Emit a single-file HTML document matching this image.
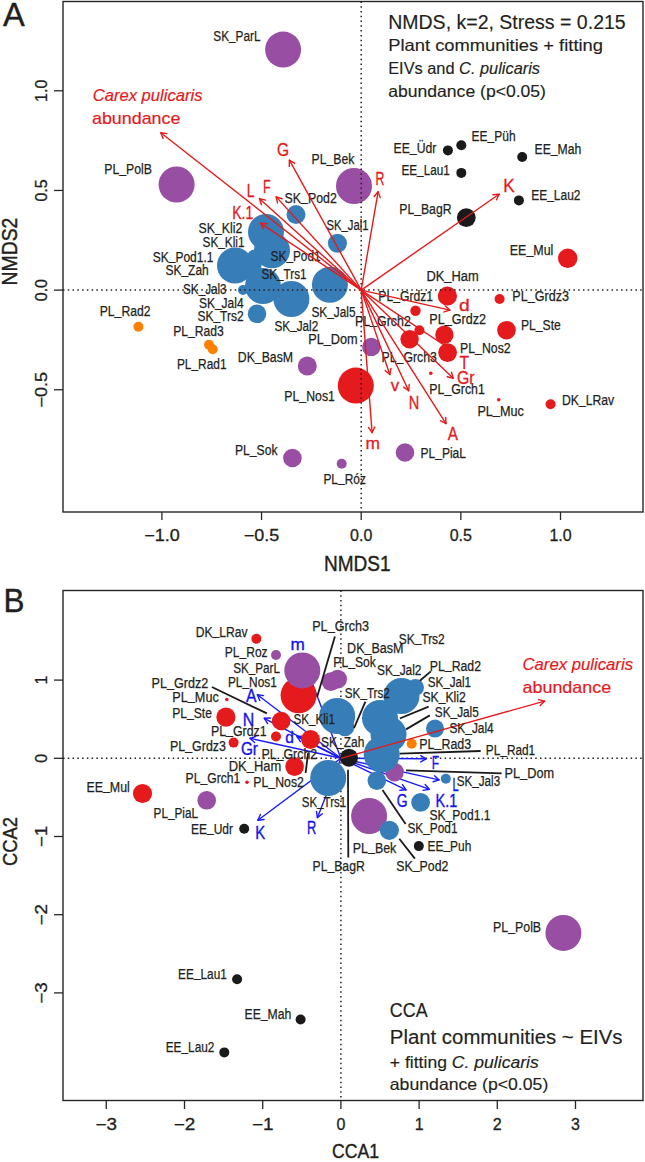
<!DOCTYPE html>
<html><head><meta charset="utf-8"><style>
html,body{margin:0;padding:0;background:#fff;overflow:hidden;width:645px;height:1162px;}
svg{display:block;font-family:"Liberation Sans",sans-serif;}
</style></head><body>
<svg width="645" height="1162" viewBox="0 0 645 1162">
<rect width="645" height="1162" fill="#fff"/>
<rect x="63" y="1.5" width="580" height="510.5" fill="none" stroke="#262626" stroke-width="1.4"/>
<circle cx="283.1" cy="49.6" r="18" fill="#984EA3"/>
<circle cx="176.6" cy="184.5" r="18" fill="#984EA3"/>
<circle cx="354" cy="186" r="18" fill="#984EA3"/>
<circle cx="371.3" cy="346.9" r="9.2" fill="#984EA3"/>
<circle cx="307.3" cy="366" r="9.5" fill="#984EA3"/>
<circle cx="292.4" cy="458" r="9.3" fill="#984EA3"/>
<circle cx="341.7" cy="463.8" r="5" fill="#984EA3"/>
<circle cx="405" cy="452.5" r="9.3" fill="#984EA3"/>
<circle cx="447.9" cy="150.4" r="5" fill="#1a1a1a"/>
<circle cx="461.3" cy="145.3" r="5" fill="#1a1a1a"/>
<circle cx="522.2" cy="157" r="5" fill="#1a1a1a"/>
<circle cx="461.3" cy="172.9" r="5" fill="#1a1a1a"/>
<circle cx="518.9" cy="200.4" r="5" fill="#1a1a1a"/>
<circle cx="466.3" cy="217.6" r="9.4" fill="#1a1a1a"/>
<circle cx="567.7" cy="258.3" r="9.7" fill="#E41A1C"/>
<circle cx="447.4" cy="296" r="9.6" fill="#E41A1C"/>
<circle cx="499.6" cy="299" r="5" fill="#E41A1C"/>
<circle cx="415.5" cy="310.7" r="5.2" fill="#E41A1C"/>
<circle cx="419.4" cy="330.3" r="5" fill="#E41A1C"/>
<circle cx="409.6" cy="339.2" r="9.2" fill="#E41A1C"/>
<circle cx="444.4" cy="334.8" r="9.2" fill="#E41A1C"/>
<circle cx="447.6" cy="352.6" r="9.4" fill="#E41A1C"/>
<circle cx="506.5" cy="330.2" r="9.3" fill="#E41A1C"/>
<circle cx="430.8" cy="373.2" r="1.8" fill="#E41A1C"/>
<circle cx="498.7" cy="399.8" r="1.8" fill="#E41A1C"/>
<circle cx="550.6" cy="404.2" r="5" fill="#E41A1C"/>
<circle cx="355.8" cy="385.6" r="18" fill="#E41A1C"/>
<circle cx="138.4" cy="326.7" r="5" fill="#FF7F00"/>
<circle cx="209" cy="344.8" r="5" fill="#FF7F00"/>
<circle cx="212.7" cy="349.3" r="5" fill="#FF7F00"/>
<circle cx="266" cy="232" r="18" fill="#377EB8"/>
<circle cx="272" cy="250.3" r="18" fill="#377EB8"/>
<circle cx="235" cy="265.5" r="18" fill="#377EB8"/>
<circle cx="263" cy="286" r="18" fill="#377EB8"/>
<circle cx="243" cy="290" r="5" fill="#377EB8"/>
<circle cx="255" cy="258" r="8.5" fill="#377EB8"/>
<circle cx="252.3" cy="265.5" r="9.3" fill="#377EB8"/>
<circle cx="291.4" cy="299" r="18" fill="#377EB8"/>
<circle cx="257" cy="313.8" r="9.3" fill="#377EB8"/>
<circle cx="296" cy="214.6" r="9.5" fill="#377EB8"/>
<circle cx="337.4" cy="243.3" r="9.5" fill="#377EB8"/>
<circle cx="329.9" cy="284.8" r="18" fill="#377EB8"/>
<line x1="63" y1="290.1" x2="643" y2="290.1" stroke="#231F20" stroke-width="1.5" stroke-dasharray="1.5 3.27"/>
<line x1="361.2" y1="1.5" x2="361.2" y2="512" stroke="#231F20" stroke-width="1.5" stroke-dasharray="1.5 3.27"/>
<text x="213.3" y="41.2" font-size="14" fill="#231F20" stroke="#231F20" stroke-width="0.25" textLength="47.2" lengthAdjust="spacingAndGlyphs">SK<tspan dy="-1.2">_</tspan><tspan dy="1.2">ParL</tspan></text>
<text x="104.3" y="174.3" font-size="14" fill="#231F20" stroke="#231F20" stroke-width="0.25" textLength="47.7" lengthAdjust="spacingAndGlyphs">PL<tspan dy="-1.2">_</tspan><tspan dy="1.2">PolB</tspan></text>
<text x="311.6" y="164.3" font-size="14" fill="#231F20" stroke="#231F20" stroke-width="0.25" textLength="42.8" lengthAdjust="spacingAndGlyphs">PL<tspan dy="-1.2">_</tspan><tspan dy="1.2">Bek</tspan></text>
<text x="393.6" y="153.1" font-size="14" fill="#231F20" stroke="#231F20" stroke-width="0.25" textLength="42.7" lengthAdjust="spacingAndGlyphs">EE<tspan dy="-1.2">_</tspan><tspan dy="1.2">Üdr</tspan></text>
<text x="471.6" y="141.2" font-size="14" fill="#231F20" stroke="#231F20" stroke-width="0.25" textLength="44.0" lengthAdjust="spacingAndGlyphs">EE<tspan dy="-1.2">_</tspan><tspan dy="1.2">Püh</tspan></text>
<text x="534.5" y="154" font-size="14" fill="#231F20" stroke="#231F20" stroke-width="0.25" textLength="46.8" lengthAdjust="spacingAndGlyphs">EE<tspan dy="-1.2">_</tspan><tspan dy="1.2">Mah</tspan></text>
<text x="401.4" y="175.4" font-size="14" fill="#231F20" stroke="#231F20" stroke-width="0.25" textLength="48.4" lengthAdjust="spacingAndGlyphs">EE<tspan dy="-1.2">_</tspan><tspan dy="1.2">Lau1</tspan></text>
<text x="531.2" y="200.4" font-size="14" fill="#231F20" stroke="#231F20" stroke-width="0.25" textLength="49.3" lengthAdjust="spacingAndGlyphs">EE<tspan dy="-1.2">_</tspan><tspan dy="1.2">Lau2</tspan></text>
<text x="399.3" y="214.4" font-size="14" fill="#231F20" stroke="#231F20" stroke-width="0.25" textLength="52.2" lengthAdjust="spacingAndGlyphs">PL<tspan dy="-1.2">_</tspan><tspan dy="1.2">BagR</tspan></text>
<text x="509.8" y="255.4" font-size="14" fill="#231F20" stroke="#231F20" stroke-width="0.25" textLength="43.6" lengthAdjust="spacingAndGlyphs">EE<tspan dy="-1.2">_</tspan><tspan dy="1.2">Mul</tspan></text>
<text x="426.4" y="281" font-size="14" fill="#231F20" stroke="#231F20" stroke-width="0.25" textLength="52.2" lengthAdjust="spacingAndGlyphs">DK<tspan dy="-1.2">_</tspan><tspan dy="1.2">Ham</tspan></text>
<text x="512.3" y="301" font-size="14" fill="#231F20" stroke="#231F20" stroke-width="0.25" textLength="56.7" lengthAdjust="spacingAndGlyphs">PL<tspan dy="-1.2">_</tspan><tspan dy="1.2">Grdz3</tspan></text>
<text x="378.3" y="301.4" font-size="14" fill="#231F20" stroke="#231F20" stroke-width="0.25" textLength="54.8" lengthAdjust="spacingAndGlyphs">PL<tspan dy="-1.2">_</tspan><tspan dy="1.2">Grdz1</tspan></text>
<text x="429.3" y="323.7" font-size="14" fill="#231F20" stroke="#231F20" stroke-width="0.25" textLength="56.7" lengthAdjust="spacingAndGlyphs">PL<tspan dy="-1.2">_</tspan><tspan dy="1.2">Grdz2</tspan></text>
<text x="520.9" y="329.8" font-size="14" fill="#231F20" stroke="#231F20" stroke-width="0.25" textLength="39.9" lengthAdjust="spacingAndGlyphs">PL<tspan dy="-1.2">_</tspan><tspan dy="1.2">Ste</tspan></text>
<text x="460.1" y="353" font-size="14" fill="#231F20" stroke="#231F20" stroke-width="0.25" textLength="50.5" lengthAdjust="spacingAndGlyphs">PL<tspan dy="-1.2">_</tspan><tspan dy="1.2">Nos2</tspan></text>
<text x="381.6" y="362" font-size="14" fill="#231F20" stroke="#231F20" stroke-width="0.25" textLength="55.3" lengthAdjust="spacingAndGlyphs">PL<tspan dy="-1.2">_</tspan><tspan dy="1.2">Grch3</tspan></text>
<text x="354.9" y="325.6" font-size="14" fill="#231F20" stroke="#231F20" stroke-width="0.25" textLength="55.9" lengthAdjust="spacingAndGlyphs">PL<tspan dy="-1.2">_</tspan><tspan dy="1.2">Grch2</tspan></text>
<text x="429.3" y="393.7" font-size="14" fill="#231F20" stroke="#231F20" stroke-width="0.25" textLength="55.5" lengthAdjust="spacingAndGlyphs">PL<tspan dy="-1.2">_</tspan><tspan dy="1.2">Grch1</tspan></text>
<text x="477.4" y="415.5" font-size="14" fill="#231F20" stroke="#231F20" stroke-width="0.25" textLength="46.4" lengthAdjust="spacingAndGlyphs">PL<tspan dy="-1.2">_</tspan><tspan dy="1.2">Muc</tspan></text>
<text x="562" y="405.2" font-size="14" fill="#231F20" stroke="#231F20" stroke-width="0.25" textLength="52.2" lengthAdjust="spacingAndGlyphs">DK<tspan dy="-1.2">_</tspan><tspan dy="1.2">LRav</tspan></text>
<text x="420.5" y="458" font-size="14" fill="#231F20" stroke="#231F20" stroke-width="0.25" textLength="45.5" lengthAdjust="spacingAndGlyphs">PL<tspan dy="-1.2">_</tspan><tspan dy="1.2">PiaL</tspan></text>
<text x="323.4" y="483.5" font-size="14" fill="#231F20" stroke="#231F20" stroke-width="0.25" textLength="42.5" lengthAdjust="spacingAndGlyphs">PL<tspan dy="-1.2">_</tspan><tspan dy="1.2">Róz</tspan></text>
<text x="235" y="454.7" font-size="14" fill="#231F20" stroke="#231F20" stroke-width="0.25" textLength="42.5" lengthAdjust="spacingAndGlyphs">PL<tspan dy="-1.2">_</tspan><tspan dy="1.2">Sok</tspan></text>
<text x="284.3" y="401.3" font-size="14" fill="#231F20" stroke="#231F20" stroke-width="0.25" textLength="50.6" lengthAdjust="spacingAndGlyphs">PL<tspan dy="-1.2">_</tspan><tspan dy="1.2">Nos1</tspan></text>
<text x="237.8" y="362" font-size="14" fill="#231F20" stroke="#231F20" stroke-width="0.25" textLength="55.2" lengthAdjust="spacingAndGlyphs">DK<tspan dy="-1.2">_</tspan><tspan dy="1.2">BasM</tspan></text>
<text x="308.2" y="343.8" font-size="14" fill="#231F20" stroke="#231F20" stroke-width="0.25" textLength="49.5" lengthAdjust="spacingAndGlyphs">PL<tspan dy="-1.2">_</tspan><tspan dy="1.2">Dom</tspan></text>
<text x="311.4" y="317.1" font-size="14" fill="#231F20" stroke="#231F20" stroke-width="0.25" textLength="44.1" lengthAdjust="spacingAndGlyphs">SK<tspan dy="-1.2">_</tspan><tspan dy="1.2">Jal5</tspan></text>
<text x="274.5" y="330.6" font-size="14" fill="#231F20" stroke="#231F20" stroke-width="0.25" textLength="43.7" lengthAdjust="spacingAndGlyphs">SK<tspan dy="-1.2">_</tspan><tspan dy="1.2">Jal2</tspan></text>
<text x="261.5" y="278.7" font-size="14" fill="#231F20" stroke="#231F20" stroke-width="0.25" textLength="45.0" lengthAdjust="spacingAndGlyphs">SK<tspan dy="-1.2">_</tspan><tspan dy="1.2">Trs1</tspan></text>
<text x="270.6" y="261.2" font-size="14" fill="#231F20" stroke="#231F20" stroke-width="0.25" textLength="50.0" lengthAdjust="spacingAndGlyphs">SK<tspan dy="-1.2">_</tspan><tspan dy="1.2">Pod1</tspan></text>
<text x="284.6" y="202.6" font-size="14" fill="#231F20" stroke="#231F20" stroke-width="0.25" textLength="52.2" lengthAdjust="spacingAndGlyphs">SK<tspan dy="-1.2">_</tspan><tspan dy="1.2">Pod2</tspan></text>
<text x="326.5" y="229.8" font-size="14" fill="#231F20" stroke="#231F20" stroke-width="0.25" textLength="42.0" lengthAdjust="spacingAndGlyphs">SK<tspan dy="-1.2">_</tspan><tspan dy="1.2">Jal1</tspan></text>
<text x="198.6" y="232.7" font-size="14" fill="#231F20" stroke="#231F20" stroke-width="0.25" textLength="43.7" lengthAdjust="spacingAndGlyphs">SK<tspan dy="-1.2">_</tspan><tspan dy="1.2">Kli2</tspan></text>
<text x="202.6" y="246.7" font-size="14" fill="#231F20" stroke="#231F20" stroke-width="0.25" textLength="41.9" lengthAdjust="spacingAndGlyphs">SK<tspan dy="-1.2">_</tspan><tspan dy="1.2">Kli1</tspan></text>
<text x="152.7" y="261.6" font-size="14" fill="#231F20" stroke="#231F20" stroke-width="0.25" textLength="60.8" lengthAdjust="spacingAndGlyphs">SK<tspan dy="-1.2">_</tspan><tspan dy="1.2">Pod1.1</tspan></text>
<text x="165.4" y="275.2" font-size="14" fill="#231F20" stroke="#231F20" stroke-width="0.25" textLength="43.4" lengthAdjust="spacingAndGlyphs">SK<tspan dy="-1.2">_</tspan><tspan dy="1.2">Zah</tspan></text>
<text x="183.1" y="293.8" font-size="14" fill="#231F20" stroke="#231F20" stroke-width="0.25" textLength="43.4" lengthAdjust="spacingAndGlyphs">SK<tspan dy="-1.2">_</tspan><tspan dy="1.2">Jal3</tspan></text>
<text x="198.9" y="307.8" font-size="14" fill="#231F20" stroke="#231F20" stroke-width="0.25" textLength="44.7" lengthAdjust="spacingAndGlyphs">SK<tspan dy="-1.2">_</tspan><tspan dy="1.2">Jal4</tspan></text>
<text x="197.4" y="321.1" font-size="14" fill="#231F20" stroke="#231F20" stroke-width="0.25" textLength="46.2" lengthAdjust="spacingAndGlyphs">SK<tspan dy="-1.2">_</tspan><tspan dy="1.2">Trs2</tspan></text>
<text x="99.7" y="315.8" font-size="14" fill="#231F20" stroke="#231F20" stroke-width="0.25" textLength="50.8" lengthAdjust="spacingAndGlyphs">PL<tspan dy="-1.2">_</tspan><tspan dy="1.2">Rad2</tspan></text>
<text x="173.2" y="336" font-size="14" fill="#231F20" stroke="#231F20" stroke-width="0.25" textLength="50.5" lengthAdjust="spacingAndGlyphs">PL<tspan dy="-1.2">_</tspan><tspan dy="1.2">Rad3</tspan></text>
<text x="176.9" y="369.1" font-size="14" fill="#231F20" stroke="#231F20" stroke-width="0.25" textLength="49.6" lengthAdjust="spacingAndGlyphs">PL<tspan dy="-1.2">_</tspan><tspan dy="1.2">Rad1</tspan></text>
<line x1="361.2" y1="290.1" x2="160.8" y2="132.7" stroke="#E41A1C" stroke-width="1.4" />
<line x1="160.80" y1="132.70" x2="163.11" y2="138.45" stroke="#E41A1C" stroke-width="1.4" stroke-linecap="round"/>
<line x1="160.80" y1="132.70" x2="166.94" y2="133.58" stroke="#E41A1C" stroke-width="1.4" stroke-linecap="round"/>
<line x1="361.2" y1="290.1" x2="289.4" y2="160.2" stroke="#E41A1C" stroke-width="1.4" />
<line x1="289.40" y1="160.20" x2="289.28" y2="166.40" stroke="#E41A1C" stroke-width="1.4" stroke-linecap="round"/>
<line x1="289.40" y1="160.20" x2="294.71" y2="163.40" stroke="#E41A1C" stroke-width="1.4" stroke-linecap="round"/>
<line x1="361.2" y1="290.1" x2="259.5" y2="198.8" stroke="#E41A1C" stroke-width="1.4" />
<line x1="259.50" y1="198.80" x2="261.42" y2="204.69" stroke="#E41A1C" stroke-width="1.4" stroke-linecap="round"/>
<line x1="259.50" y1="198.80" x2="265.57" y2="200.08" stroke="#E41A1C" stroke-width="1.4" stroke-linecap="round"/>
<line x1="361.2" y1="290.1" x2="276.2" y2="196.9" stroke="#E41A1C" stroke-width="1.4" />
<line x1="276.20" y1="196.90" x2="277.53" y2="202.96" stroke="#E41A1C" stroke-width="1.4" stroke-linecap="round"/>
<line x1="276.20" y1="196.90" x2="282.11" y2="198.78" stroke="#E41A1C" stroke-width="1.4" stroke-linecap="round"/>
<line x1="361.2" y1="290.1" x2="260.7" y2="223.3" stroke="#E41A1C" stroke-width="1.4" />
<line x1="260.70" y1="223.30" x2="263.46" y2="228.85" stroke="#E41A1C" stroke-width="1.4" stroke-linecap="round"/>
<line x1="260.70" y1="223.30" x2="266.89" y2="223.69" stroke="#E41A1C" stroke-width="1.4" stroke-linecap="round"/>
<line x1="361.2" y1="290.1" x2="378.1" y2="191.8" stroke="#E41A1C" stroke-width="1.4" />
<line x1="378.10" y1="191.80" x2="374.14" y2="196.57" stroke="#E41A1C" stroke-width="1.4" stroke-linecap="round"/>
<line x1="378.10" y1="191.80" x2="380.25" y2="197.62" stroke="#E41A1C" stroke-width="1.4" stroke-linecap="round"/>
<line x1="361.2" y1="290.1" x2="499.1" y2="194.2" stroke="#E41A1C" stroke-width="1.4" />
<line x1="499.10" y1="194.20" x2="492.92" y2="194.72" stroke="#E41A1C" stroke-width="1.4" stroke-linecap="round"/>
<line x1="499.10" y1="194.20" x2="496.46" y2="199.81" stroke="#E41A1C" stroke-width="1.4" stroke-linecap="round"/>
<line x1="361.2" y1="290.1" x2="449.9" y2="310.1" stroke="#E41A1C" stroke-width="1.4" />
<line x1="449.90" y1="310.10" x2="445.34" y2="305.89" stroke="#E41A1C" stroke-width="1.4" stroke-linecap="round"/>
<line x1="449.90" y1="310.10" x2="443.98" y2="311.94" stroke="#E41A1C" stroke-width="1.4" stroke-linecap="round"/>
<line x1="361.2" y1="290.1" x2="453" y2="351" stroke="#E41A1C" stroke-width="1.4" />
<line x1="453.00" y1="351.00" x2="450.24" y2="345.45" stroke="#E41A1C" stroke-width="1.4" stroke-linecap="round"/>
<line x1="453.00" y1="351.00" x2="446.81" y2="350.61" stroke="#E41A1C" stroke-width="1.4" stroke-linecap="round"/>
<line x1="361.2" y1="290.1" x2="453.2" y2="378.2" stroke="#E41A1C" stroke-width="1.4" />
<line x1="453.20" y1="378.20" x2="451.47" y2="372.25" stroke="#E41A1C" stroke-width="1.4" stroke-linecap="round"/>
<line x1="453.20" y1="378.20" x2="447.18" y2="376.73" stroke="#E41A1C" stroke-width="1.4" stroke-linecap="round"/>
<line x1="361.2" y1="290.1" x2="389.8" y2="374.5" stroke="#E41A1C" stroke-width="1.4" />
<line x1="389.80" y1="374.50" x2="391.01" y2="368.42" stroke="#E41A1C" stroke-width="1.4" stroke-linecap="round"/>
<line x1="389.80" y1="374.50" x2="385.14" y2="370.41" stroke="#E41A1C" stroke-width="1.4" stroke-linecap="round"/>
<line x1="361.2" y1="290.1" x2="408.7" y2="390.7" stroke="#E41A1C" stroke-width="1.4" />
<line x1="408.70" y1="390.70" x2="409.21" y2="384.52" stroke="#E41A1C" stroke-width="1.4" stroke-linecap="round"/>
<line x1="408.70" y1="390.70" x2="403.60" y2="387.17" stroke="#E41A1C" stroke-width="1.4" stroke-linecap="round"/>
<line x1="361.2" y1="290.1" x2="446" y2="423.6" stroke="#E41A1C" stroke-width="1.4" />
<line x1="446.00" y1="423.60" x2="445.74" y2="417.41" stroke="#E41A1C" stroke-width="1.4" stroke-linecap="round"/>
<line x1="446.00" y1="423.60" x2="440.50" y2="420.73" stroke="#E41A1C" stroke-width="1.4" stroke-linecap="round"/>
<line x1="361.2" y1="290.1" x2="372.1" y2="432.6" stroke="#E41A1C" stroke-width="1.4" />
<line x1="372.10" y1="432.60" x2="374.78" y2="427.01" stroke="#E41A1C" stroke-width="1.4" stroke-linecap="round"/>
<line x1="372.10" y1="432.60" x2="368.60" y2="427.48" stroke="#E41A1C" stroke-width="1.4" stroke-linecap="round"/>
<text x="276.9" y="155.7" font-size="17.5" fill="#E41A1C" stroke="#E41A1C" stroke-width="0.3" textLength="12.1" lengthAdjust="spacingAndGlyphs">G</text>
<text x="246.7" y="197.2" font-size="17.5" fill="#E41A1C" stroke="#E41A1C" stroke-width="0.3" textLength="7.8" lengthAdjust="spacingAndGlyphs">L</text>
<text x="262.9" y="192.6" font-size="17.5" fill="#E41A1C" stroke="#E41A1C" stroke-width="0.3" textLength="7.7" lengthAdjust="spacingAndGlyphs">F</text>
<text x="232.3" y="218.6" font-size="17.5" fill="#E41A1C" stroke="#E41A1C" stroke-width="0.3" textLength="21.0" lengthAdjust="spacingAndGlyphs">K.1</text>
<text x="375.4" y="184.8" font-size="17.5" fill="#E41A1C" stroke="#E41A1C" stroke-width="0.3" textLength="8.9" lengthAdjust="spacingAndGlyphs">R</text>
<text x="503.3" y="192" font-size="17.5" fill="#E41A1C" stroke="#E41A1C" stroke-width="0.3" textLength="11.5" lengthAdjust="spacingAndGlyphs">K</text>
<text x="458.9" y="311" font-size="16.2" fill="#E41A1C" stroke="#E41A1C" stroke-width="0.3" textLength="10.7" lengthAdjust="spacingAndGlyphs">d</text>
<text x="459.6" y="368.8" font-size="17.5" fill="#E41A1C" stroke="#E41A1C" stroke-width="0.3" textLength="9.5" lengthAdjust="spacingAndGlyphs">T</text>
<text x="457" y="384" font-size="17.5" fill="#E41A1C" stroke="#E41A1C" stroke-width="0.3" textLength="17.6" lengthAdjust="spacingAndGlyphs">Gr</text>
<text x="390.7" y="390.7" font-size="16.2" fill="#E41A1C" stroke="#E41A1C" stroke-width="0.3" textLength="8.4" lengthAdjust="spacingAndGlyphs">v</text>
<text x="408.7" y="408.7" font-size="17.5" fill="#E41A1C" stroke="#E41A1C" stroke-width="0.3" textLength="10.5" lengthAdjust="spacingAndGlyphs">N</text>
<text x="447.8" y="440.4" font-size="17.5" fill="#E41A1C" stroke="#E41A1C" stroke-width="0.3" textLength="10.2" lengthAdjust="spacingAndGlyphs">A</text>
<text x="365.6" y="448.9" font-size="16.2" fill="#E41A1C" stroke="#E41A1C" stroke-width="0.3" textLength="14.5" lengthAdjust="spacingAndGlyphs">m</text>
<text x="92.7" y="100.8" font-size="17" fill="#E41A1C" font-style="italic" stroke="#E41A1C" stroke-width="0.2" textLength="109.8" lengthAdjust="spacingAndGlyphs">Carex pulicaris</text>
<text x="92" y="124" font-size="17" fill="#E41A1C" stroke="#E41A1C" stroke-width="0.2" textLength="88.4" lengthAdjust="spacingAndGlyphs">abundance</text>
<text x="388.2" y="28.9" font-size="19.5" fill="#231F20" stroke="#231F20" stroke-width="0.15" textLength="237.5" lengthAdjust="spacingAndGlyphs">NMDS, k=2, Stress = 0.215</text>
<text x="388.2" y="51.4" font-size="16.5" fill="#231F20" stroke="#231F20" stroke-width="0.15" textLength="214.8" lengthAdjust="spacingAndGlyphs">Plant communities + fitting</text>
<text x="388.2" y="73.8" font-size="16.5" fill="#231F20" stroke="#231F20" stroke-width="0.15" textLength="151.8" lengthAdjust="spacingAndGlyphs">EIVs and <tspan font-style="italic">C. pulicaris</tspan></text>
<text x="388.2" y="96.6" font-size="16.5" fill="#231F20" stroke="#231F20" stroke-width="0.15" textLength="157.8" lengthAdjust="spacingAndGlyphs">abundance (p&lt;0.05)</text>
<line x1="161.89999999999998" y1="512" x2="161.89999999999998" y2="520" stroke="#262626" stroke-width="1.3" />
<text x="161.89999999999998" y="541" font-size="16" fill="#231F20" stroke="#231F20" stroke-width="0.3" text-anchor="middle" textLength="35.5" lengthAdjust="spacingAndGlyphs">−1.0</text>
<line x1="261.54999999999995" y1="512" x2="261.54999999999995" y2="520" stroke="#262626" stroke-width="1.3" />
<text x="261.54999999999995" y="541" font-size="16" fill="#231F20" stroke="#231F20" stroke-width="0.3" text-anchor="middle" textLength="35.5" lengthAdjust="spacingAndGlyphs">−0.5</text>
<line x1="361.2" y1="512" x2="361.2" y2="520" stroke="#262626" stroke-width="1.3" />
<text x="361.2" y="541" font-size="16" fill="#231F20" stroke="#231F20" stroke-width="0.3" text-anchor="middle">0.0</text>
<line x1="460.85" y1="512" x2="460.85" y2="520" stroke="#262626" stroke-width="1.3" />
<text x="460.85" y="541" font-size="16" fill="#231F20" stroke="#231F20" stroke-width="0.3" text-anchor="middle">0.5</text>
<line x1="560.5" y1="512" x2="560.5" y2="520" stroke="#262626" stroke-width="1.3" />
<text x="560.5" y="541" font-size="16" fill="#231F20" stroke="#231F20" stroke-width="0.3" text-anchor="middle">1.0</text>
<line x1="54" y1="389.75" x2="63" y2="389.75" stroke="#262626" stroke-width="1.3" />
<text x="0" y="0" font-size="16" fill="#231F20" stroke="#231F20" stroke-width="0.3" text-anchor="middle" textLength="35.5" lengthAdjust="spacingAndGlyphs" transform="translate(47,389.75) rotate(-90)">−0.5</text>
<line x1="54" y1="290.1" x2="63" y2="290.1" stroke="#262626" stroke-width="1.3" />
<text x="0" y="0" font-size="16" fill="#231F20" stroke="#231F20" stroke-width="0.3" text-anchor="middle" transform="translate(47,290.1) rotate(-90)">0.0</text>
<line x1="54" y1="190.45000000000002" x2="63" y2="190.45000000000002" stroke="#262626" stroke-width="1.3" />
<text x="0" y="0" font-size="16" fill="#231F20" stroke="#231F20" stroke-width="0.3" text-anchor="middle" transform="translate(47,190.45000000000002) rotate(-90)">0.5</text>
<line x1="54" y1="90.80000000000001" x2="63" y2="90.80000000000001" stroke="#262626" stroke-width="1.3" />
<text x="0" y="0" font-size="16" fill="#231F20" stroke="#231F20" stroke-width="0.3" text-anchor="middle" transform="translate(47,90.80000000000001) rotate(-90)">1.0</text>
<text x="324" y="570.5" font-size="22" fill="#231F20" stroke="#231F20" stroke-width="0.4" textLength="66.6" lengthAdjust="spacingAndGlyphs">NMDS1</text>
<text x="-34" y="0" font-size="22" fill="#231F20" stroke="#231F20" stroke-width="0.4" textLength="67.9" lengthAdjust="spacingAndGlyphs" transform="translate(17.3,251.5) rotate(-90)">NMDS2</text>
<text x="3" y="25.8" font-size="34" fill="#231F20" stroke="#231F20" stroke-width="0.4" textLength="21.8" lengthAdjust="spacingAndGlyphs">A</text>
<rect x="63" y="590.5" width="580" height="510" fill="none" stroke="#262626" stroke-width="1.4"/>
<line x1="63" y1="758.3" x2="643" y2="758.3" stroke="#231F20" stroke-width="1.5" stroke-dasharray="1.5 3.27"/>
<line x1="340.9" y1="590.5" x2="340.9" y2="1100.5" stroke="#231F20" stroke-width="1.5" stroke-dasharray="1.5 3.27"/>
<line x1="340.9" y1="758.3" x2="257.4" y2="694.8" stroke="#1a1aff" stroke-width="1.4" />
<line x1="257.40" y1="694.80" x2="259.80" y2="700.52" stroke="#1a1aff" stroke-width="1.4" stroke-linecap="round"/>
<line x1="257.40" y1="694.80" x2="263.55" y2="695.58" stroke="#1a1aff" stroke-width="1.4" stroke-linecap="round"/>
<line x1="340.9" y1="758.3" x2="264.3" y2="718.3" stroke="#1a1aff" stroke-width="1.4" />
<line x1="264.30" y1="718.30" x2="267.62" y2="723.53" stroke="#1a1aff" stroke-width="1.4" stroke-linecap="round"/>
<line x1="264.30" y1="718.30" x2="270.49" y2="718.04" stroke="#1a1aff" stroke-width="1.4" stroke-linecap="round"/>
<line x1="340.9" y1="758.3" x2="297" y2="736.5" stroke="#1a1aff" stroke-width="1.4" />
<line x1="297.00" y1="736.50" x2="300.43" y2="741.66" stroke="#1a1aff" stroke-width="1.4" stroke-linecap="round"/>
<line x1="297.00" y1="736.50" x2="303.19" y2="736.11" stroke="#1a1aff" stroke-width="1.4" stroke-linecap="round"/>
<line x1="340.9" y1="758.3" x2="250" y2="738.3" stroke="#1a1aff" stroke-width="1.4" />
<line x1="250.00" y1="738.30" x2="254.58" y2="742.48" stroke="#1a1aff" stroke-width="1.4" stroke-linecap="round"/>
<line x1="250.00" y1="738.30" x2="255.91" y2="736.43" stroke="#1a1aff" stroke-width="1.4" stroke-linecap="round"/>
<line x1="340.9" y1="758.3" x2="301.2" y2="654.3" stroke="#1a1aff" stroke-width="1.4" />
<line x1="301.20" y1="654.30" x2="300.22" y2="660.42" stroke="#1a1aff" stroke-width="1.4" stroke-linecap="round"/>
<line x1="301.20" y1="654.30" x2="306.01" y2="658.21" stroke="#1a1aff" stroke-width="1.4" stroke-linecap="round"/>
<line x1="340.9" y1="758.3" x2="257.9" y2="820.2" stroke="#1a1aff" stroke-width="1.4" />
<line x1="257.90" y1="820.20" x2="264.06" y2="819.48" stroke="#1a1aff" stroke-width="1.4" stroke-linecap="round"/>
<line x1="257.90" y1="820.20" x2="260.35" y2="814.50" stroke="#1a1aff" stroke-width="1.4" stroke-linecap="round"/>
<line x1="340.9" y1="758.3" x2="317.4" y2="817.6" stroke="#1a1aff" stroke-width="1.4" />
<line x1="317.40" y1="817.60" x2="322.26" y2="813.75" stroke="#1a1aff" stroke-width="1.4" stroke-linecap="round"/>
<line x1="317.40" y1="817.60" x2="316.50" y2="811.47" stroke="#1a1aff" stroke-width="1.4" stroke-linecap="round"/>
<line x1="340.9" y1="758.3" x2="406" y2="789.8" stroke="#1a1aff" stroke-width="1.4" />
<line x1="406.00" y1="789.80" x2="402.52" y2="784.67" stroke="#1a1aff" stroke-width="1.4" stroke-linecap="round"/>
<line x1="406.00" y1="789.80" x2="399.82" y2="790.25" stroke="#1a1aff" stroke-width="1.4" stroke-linecap="round"/>
<line x1="340.9" y1="758.3" x2="429.2" y2="789.2" stroke="#1a1aff" stroke-width="1.4" />
<line x1="429.20" y1="789.20" x2="425.16" y2="784.50" stroke="#1a1aff" stroke-width="1.4" stroke-linecap="round"/>
<line x1="429.20" y1="789.20" x2="423.11" y2="790.35" stroke="#1a1aff" stroke-width="1.4" stroke-linecap="round"/>
<line x1="340.9" y1="758.3" x2="439.1" y2="779.9" stroke="#1a1aff" stroke-width="1.4" />
<line x1="439.10" y1="779.90" x2="434.52" y2="775.72" stroke="#1a1aff" stroke-width="1.4" stroke-linecap="round"/>
<line x1="439.10" y1="779.90" x2="433.19" y2="781.77" stroke="#1a1aff" stroke-width="1.4" stroke-linecap="round"/>
<line x1="340.9" y1="758.3" x2="426.1" y2="758.8" stroke="#1a1aff" stroke-width="1.4" />
<line x1="426.10" y1="758.80" x2="420.75" y2="755.67" stroke="#1a1aff" stroke-width="1.4" stroke-linecap="round"/>
<line x1="426.10" y1="758.80" x2="420.71" y2="761.87" stroke="#1a1aff" stroke-width="1.4" stroke-linecap="round"/>
<circle cx="256.4" cy="638.8" r="5" fill="#E41A1C"/>
<circle cx="298.6" cy="695.3" r="18" fill="#E41A1C"/>
<circle cx="225.9" cy="717.1" r="9.6" fill="#E41A1C"/>
<circle cx="226.8" cy="699.5" r="1.8" fill="#E41A1C"/>
<circle cx="233.6" cy="742.6" r="5" fill="#E41A1C"/>
<circle cx="281.2" cy="721" r="9.3" fill="#E41A1C"/>
<circle cx="276" cy="736.5" r="5" fill="#E41A1C"/>
<circle cx="310.5" cy="739.5" r="9.4" fill="#E41A1C"/>
<circle cx="294.6" cy="766.6" r="9.3" fill="#E41A1C"/>
<circle cx="247" cy="782.2" r="1.8" fill="#E41A1C"/>
<circle cx="142.5" cy="793.5" r="9.6" fill="#E41A1C"/>
<circle cx="276" cy="655" r="5" fill="#984EA3"/>
<circle cx="302.3" cy="670.4" r="18" fill="#984EA3"/>
<circle cx="337.7" cy="679.1" r="9.3" fill="#984EA3"/>
<circle cx="330.9" cy="681.6" r="9.3" fill="#984EA3"/>
<circle cx="206.7" cy="800.3" r="9.3" fill="#984EA3"/>
<circle cx="394.6" cy="772.1" r="9.3" fill="#984EA3"/>
<circle cx="369.1" cy="816" r="18" fill="#984EA3"/>
<circle cx="563.4" cy="932.9" r="18" fill="#984EA3"/>
<circle cx="244.2" cy="828.8" r="5" fill="#1a1a1a"/>
<circle cx="237.1" cy="979.2" r="5" fill="#1a1a1a"/>
<circle cx="300.6" cy="1019.5" r="5" fill="#1a1a1a"/>
<circle cx="224.3" cy="1052.4" r="5" fill="#1a1a1a"/>
<circle cx="418.8" cy="846.1" r="5" fill="#1a1a1a"/>
<circle cx="349" cy="757.7" r="9" fill="#1a1a1a"/>
<circle cx="411.7" cy="743.7" r="5" fill="#FF7F00"/>
<circle cx="337.2" cy="716" r="18" fill="#377EB8"/>
<circle cx="345" cy="727" r="9.3" fill="#377EB8"/>
<circle cx="328.2" cy="778" r="18" fill="#377EB8"/>
<circle cx="401.5" cy="696" r="18" fill="#377EB8"/>
<circle cx="415.5" cy="687.5" r="8.5" fill="#377EB8"/>
<circle cx="380" cy="718" r="18" fill="#377EB8"/>
<circle cx="388.5" cy="734.5" r="18" fill="#377EB8"/>
<circle cx="381.7" cy="754.3" r="18" fill="#377EB8"/>
<circle cx="435" cy="728.6" r="9" fill="#377EB8"/>
<circle cx="376.8" cy="780.6" r="9.3" fill="#377EB8"/>
<circle cx="445.8" cy="778.8" r="5" fill="#377EB8"/>
<circle cx="420.6" cy="802.4" r="9.4" fill="#377EB8"/>
<circle cx="389.3" cy="830.3" r="9.6" fill="#377EB8"/>
<line x1="340.9" y1="758.3" x2="544.6" y2="701.1" stroke="#E41A1C" stroke-width="1.4" />
<line x1="544.60" y1="701.10" x2="538.59" y2="699.57" stroke="#E41A1C" stroke-width="1.4" stroke-linecap="round"/>
<line x1="544.60" y1="701.10" x2="540.27" y2="705.54" stroke="#E41A1C" stroke-width="1.4" stroke-linecap="round"/>
<line x1="211.9" y1="687" x2="266.9" y2="713.4" stroke="#1a1a1a" stroke-width="1.8" />
<line x1="334.9" y1="636.4" x2="317.2" y2="696.8" stroke="#1a1a1a" stroke-width="1.8" />
<line x1="365.4" y1="701.7" x2="354" y2="728.1" stroke="#1a1a1a" stroke-width="1.8" />
<line x1="430.8" y1="671.4" x2="419.9" y2="680.7" stroke="#1a1a1a" stroke-width="1.8" />
<line x1="428.6" y1="706.7" x2="399.8" y2="718.5" stroke="#1a1a1a" stroke-width="1.8" />
<line x1="429.8" y1="715.4" x2="406" y2="729.4" stroke="#1a1a1a" stroke-width="1.8" />
<line x1="399.8" y1="753.6" x2="480.7" y2="751" stroke="#1a1a1a" stroke-width="1.8" />
<line x1="406" y1="770.3" x2="501.6" y2="773.4" stroke="#1a1a1a" stroke-width="1.8" />
<line x1="348" y1="769.7" x2="348.3" y2="857.4" stroke="#1a1a1a" stroke-width="1.8" />
<line x1="308.1" y1="753.2" x2="305.6" y2="773" stroke="#1a1a1a" stroke-width="1.8" />
<line x1="382.5" y1="790" x2="405.6" y2="824" stroke="#1a1a1a" stroke-width="1.8" />
<line x1="399.3" y1="838.8" x2="414.9" y2="858.6" stroke="#1a1a1a" stroke-width="1.8" />
<text x="195.8" y="636.5" font-size="14" fill="#231F20" stroke="#231F20" stroke-width="0.25" textLength="51.8" lengthAdjust="spacingAndGlyphs">DK<tspan dy="-1.2">_</tspan><tspan dy="1.2">LRav</tspan></text>
<text x="224.8" y="657.2" font-size="14" fill="#231F20" stroke="#231F20" stroke-width="0.25" textLength="42.8" lengthAdjust="spacingAndGlyphs">PL<tspan dy="-1.2">_</tspan><tspan dy="1.2">Roz</tspan></text>
<text x="233.2" y="673" font-size="14" fill="#231F20" stroke="#231F20" stroke-width="0.25" textLength="46.8" lengthAdjust="spacingAndGlyphs">SK<tspan dy="-1.2">_</tspan><tspan dy="1.2">ParL</tspan></text>
<text x="227.9" y="687.3" font-size="14" fill="#231F20" stroke="#231F20" stroke-width="0.25" textLength="49.0" lengthAdjust="spacingAndGlyphs">PL<tspan dy="-1.2">_</tspan><tspan dy="1.2">Nos1</tspan></text>
<text x="151.5" y="687.7" font-size="14" fill="#231F20" stroke="#231F20" stroke-width="0.25" textLength="56.7" lengthAdjust="spacingAndGlyphs">PL<tspan dy="-1.2">_</tspan><tspan dy="1.2">Grdz2</tspan></text>
<text x="172.2" y="701.6" font-size="14" fill="#231F20" stroke="#231F20" stroke-width="0.25" textLength="46.6" lengthAdjust="spacingAndGlyphs">PL<tspan dy="-1.2">_</tspan><tspan dy="1.2">Muc</tspan></text>
<text x="172.2" y="718.1" font-size="14" fill="#231F20" stroke="#231F20" stroke-width="0.25" textLength="39.7" lengthAdjust="spacingAndGlyphs">PL<tspan dy="-1.2">_</tspan><tspan dy="1.2">Ste</tspan></text>
<text x="210.9" y="735.6" font-size="14" fill="#231F20" stroke="#231F20" stroke-width="0.25" textLength="55.8" lengthAdjust="spacingAndGlyphs">PL<tspan dy="-1.2">_</tspan><tspan dy="1.2">Grdz1</tspan></text>
<text x="170" y="751.2" font-size="14" fill="#231F20" stroke="#231F20" stroke-width="0.25" textLength="55.9" lengthAdjust="spacingAndGlyphs">PL<tspan dy="-1.2">_</tspan><tspan dy="1.2">Grdz3</tspan></text>
<text x="228.8" y="770.7" font-size="14" fill="#231F20" stroke="#231F20" stroke-width="0.25" textLength="52.4" lengthAdjust="spacingAndGlyphs">DK<tspan dy="-1.2">_</tspan><tspan dy="1.2">Ham</tspan></text>
<text x="185.6" y="783" font-size="14" fill="#231F20" stroke="#231F20" stroke-width="0.25" textLength="54.7" lengthAdjust="spacingAndGlyphs">PL<tspan dy="-1.2">_</tspan><tspan dy="1.2">Grch1</tspan></text>
<text x="253.3" y="786.7" font-size="14" fill="#231F20" stroke="#231F20" stroke-width="0.25" textLength="50.6" lengthAdjust="spacingAndGlyphs">PL<tspan dy="-1.2">_</tspan><tspan dy="1.2">Nos2</tspan></text>
<text x="261.4" y="758.8" font-size="14" fill="#231F20" stroke="#231F20" stroke-width="0.25" textLength="55.8" lengthAdjust="spacingAndGlyphs">PL<tspan dy="-1.2">_</tspan><tspan dy="1.2">Grch2</tspan></text>
<text x="293.6" y="723.8" font-size="14" fill="#231F20" stroke="#231F20" stroke-width="0.25" textLength="41.3" lengthAdjust="spacingAndGlyphs">SK<tspan dy="-1.2">_</tspan><tspan dy="1.2">Kli1</tspan></text>
<text x="321" y="747.4" font-size="14" fill="#231F20" stroke="#231F20" stroke-width="0.25" textLength="43.3" lengthAdjust="spacingAndGlyphs">SK<tspan dy="-1.2">_</tspan><tspan dy="1.2">Zah</tspan></text>
<text x="301.8" y="807" font-size="14" fill="#231F20" stroke="#231F20" stroke-width="0.25" textLength="44.3" lengthAdjust="spacingAndGlyphs">SK<tspan dy="-1.2">_</tspan><tspan dy="1.2">Trs1</tspan></text>
<text x="312.2" y="631.1" font-size="14" fill="#231F20" stroke="#231F20" stroke-width="0.25" textLength="56.8" lengthAdjust="spacingAndGlyphs">PL<tspan dy="-1.2">_</tspan><tspan dy="1.2">Grch3</tspan></text>
<text x="347.1" y="652.7" font-size="14" fill="#231F20" stroke="#231F20" stroke-width="0.25" textLength="56.4" lengthAdjust="spacingAndGlyphs">DK<tspan dy="-1.2">_</tspan><tspan dy="1.2">BasM</tspan></text>
<text x="398.8" y="643.5" font-size="14" fill="#231F20" stroke="#231F20" stroke-width="0.25" textLength="45.9" lengthAdjust="spacingAndGlyphs">SK<tspan dy="-1.2">_</tspan><tspan dy="1.2">Trs2</tspan></text>
<text x="333.3" y="667" font-size="14" fill="#231F20" stroke="#231F20" stroke-width="0.25" textLength="42.6" lengthAdjust="spacingAndGlyphs">PL<tspan dy="-1.2">_</tspan><tspan dy="1.2">Sok</tspan></text>
<text x="377.1" y="674.5" font-size="14" fill="#231F20" stroke="#231F20" stroke-width="0.25" textLength="44.4" lengthAdjust="spacingAndGlyphs">SK<tspan dy="-1.2">_</tspan><tspan dy="1.2">Jal2</tspan></text>
<text x="429.8" y="670.5" font-size="14" fill="#231F20" stroke="#231F20" stroke-width="0.25" textLength="51.2" lengthAdjust="spacingAndGlyphs">PL<tspan dy="-1.2">_</tspan><tspan dy="1.2">Rad2</tspan></text>
<text x="427.7" y="686.9" font-size="14" fill="#231F20" stroke="#231F20" stroke-width="0.25" textLength="43.4" lengthAdjust="spacingAndGlyphs">SK<tspan dy="-1.2">_</tspan><tspan dy="1.2">Jal1</tspan></text>
<text x="422.4" y="702.4" font-size="14" fill="#231F20" stroke="#231F20" stroke-width="0.25" textLength="43.4" lengthAdjust="spacingAndGlyphs">SK<tspan dy="-1.2">_</tspan><tspan dy="1.2">Kli2</tspan></text>
<text x="434.8" y="717" font-size="14" fill="#231F20" stroke="#231F20" stroke-width="0.25" textLength="44.0" lengthAdjust="spacingAndGlyphs">SK<tspan dy="-1.2">_</tspan><tspan dy="1.2">Jal5</tspan></text>
<text x="449.4" y="733.4" font-size="14" fill="#231F20" stroke="#231F20" stroke-width="0.25" textLength="44.3" lengthAdjust="spacingAndGlyphs">SK<tspan dy="-1.2">_</tspan><tspan dy="1.2">Jal4</tspan></text>
<text x="344.8" y="698.4" font-size="14" fill="#231F20" stroke="#231F20" stroke-width="0.25" textLength="45.0" lengthAdjust="spacingAndGlyphs">SK<tspan dy="-1.2">_</tspan><tspan dy="1.2">Trs2</tspan></text>
<text x="419.3" y="748.6" font-size="14" fill="#231F20" stroke="#231F20" stroke-width="0.25" textLength="51.8" lengthAdjust="spacingAndGlyphs">PL<tspan dy="-1.2">_</tspan><tspan dy="1.2">Rad3</tspan></text>
<text x="485.8" y="754.7" font-size="14" fill="#231F20" stroke="#231F20" stroke-width="0.25" textLength="49.4" lengthAdjust="spacingAndGlyphs">PL<tspan dy="-1.2">_</tspan><tspan dy="1.2">Rad1</tspan></text>
<text x="504.5" y="778.3" font-size="14" fill="#231F20" stroke="#231F20" stroke-width="0.25" textLength="49.6" lengthAdjust="spacingAndGlyphs">PL<tspan dy="-1.2">_</tspan><tspan dy="1.2">Dom</tspan></text>
<text x="456.7" y="786.2" font-size="14" fill="#231F20" stroke="#231F20" stroke-width="0.25" textLength="43.5" lengthAdjust="spacingAndGlyphs">SK<tspan dy="-1.2">_</tspan><tspan dy="1.2">Jal3</tspan></text>
<text x="429.5" y="819.7" font-size="14" fill="#231F20" stroke="#231F20" stroke-width="0.25" textLength="61.0" lengthAdjust="spacingAndGlyphs">SK<tspan dy="-1.2">_</tspan><tspan dy="1.2">Pod1.1</tspan></text>
<text x="407.4" y="833.4" font-size="14" fill="#231F20" stroke="#231F20" stroke-width="0.25" textLength="50.1" lengthAdjust="spacingAndGlyphs">SK<tspan dy="-1.2">_</tspan><tspan dy="1.2">Pod1</tspan></text>
<text x="427.5" y="850.6" font-size="14" fill="#231F20" stroke="#231F20" stroke-width="0.25" textLength="43.8" lengthAdjust="spacingAndGlyphs">EE<tspan dy="-1.2">_</tspan><tspan dy="1.2">Puh</tspan></text>
<text x="396.3" y="870.5" font-size="14" fill="#231F20" stroke="#231F20" stroke-width="0.25" textLength="52.1" lengthAdjust="spacingAndGlyphs">SK<tspan dy="-1.2">_</tspan><tspan dy="1.2">Pod2</tspan></text>
<text x="352.8" y="852.6" font-size="14" fill="#231F20" stroke="#231F20" stroke-width="0.25" textLength="43.5" lengthAdjust="spacingAndGlyphs">PL<tspan dy="-1.2">_</tspan><tspan dy="1.2">Bek</tspan></text>
<text x="312.6" y="871.2" font-size="14" fill="#231F20" stroke="#231F20" stroke-width="0.25" textLength="52.1" lengthAdjust="spacingAndGlyphs">PL<tspan dy="-1.2">_</tspan><tspan dy="1.2">BagR</tspan></text>
<text x="86.4" y="791.6" font-size="14" fill="#231F20" stroke="#231F20" stroke-width="0.25" textLength="43.4" lengthAdjust="spacingAndGlyphs">EE<tspan dy="-1.2">_</tspan><tspan dy="1.2">Mul</tspan></text>
<text x="153.6" y="818" font-size="14" fill="#231F20" stroke="#231F20" stroke-width="0.25" textLength="44.4" lengthAdjust="spacingAndGlyphs">PL<tspan dy="-1.2">_</tspan><tspan dy="1.2">PiaL</tspan></text>
<text x="190.9" y="833.5" font-size="14" fill="#231F20" stroke="#231F20" stroke-width="0.25" textLength="42.1" lengthAdjust="spacingAndGlyphs">EE<tspan dy="-1.2">_</tspan><tspan dy="1.2">Udr</tspan></text>
<text x="178.1" y="978.6" font-size="14" fill="#231F20" stroke="#231F20" stroke-width="0.25" textLength="48.7" lengthAdjust="spacingAndGlyphs">EE<tspan dy="-1.2">_</tspan><tspan dy="1.2">Lau1</tspan></text>
<text x="244.5" y="1018.9" font-size="14" fill="#231F20" stroke="#231F20" stroke-width="0.25" textLength="46.8" lengthAdjust="spacingAndGlyphs">EE<tspan dy="-1.2">_</tspan><tspan dy="1.2">Mah</tspan></text>
<text x="165.7" y="1052.4" font-size="14" fill="#231F20" stroke="#231F20" stroke-width="0.25" textLength="48.7" lengthAdjust="spacingAndGlyphs">EE<tspan dy="-1.2">_</tspan><tspan dy="1.2">Lau2</tspan></text>
<text x="493.1" y="932.1" font-size="14" fill="#231F20" stroke="#231F20" stroke-width="0.25" textLength="48.0" lengthAdjust="spacingAndGlyphs">PL<tspan dy="-1.2">_</tspan><tspan dy="1.2">PolB</tspan></text>
<text x="290.5" y="649.7" font-size="16.2" fill="#1414E6" stroke="#1414E6" stroke-width="0.35" textLength="14.3" lengthAdjust="spacingAndGlyphs">m</text>
<text x="245.9" y="702" font-size="17.5" fill="#1414E6" stroke="#1414E6" stroke-width="0.35" textLength="10.5" lengthAdjust="spacingAndGlyphs">A</text>
<text x="242.8" y="726.3" font-size="17.5" fill="#1414E6" stroke="#1414E6" stroke-width="0.35" textLength="11.5" lengthAdjust="spacingAndGlyphs">N</text>
<text x="285.3" y="742.7" font-size="16.2" fill="#1414E6" stroke="#1414E6" stroke-width="0.35" textLength="8.7" lengthAdjust="spacingAndGlyphs">d</text>
<text x="240.9" y="755" font-size="17.5" fill="#1414E6" stroke="#1414E6" stroke-width="0.35" textLength="17.1" lengthAdjust="spacingAndGlyphs">Gr</text>
<text x="255.3" y="838.8" font-size="17.5" fill="#1414E6" stroke="#1414E6" stroke-width="0.35" textLength="10.0" lengthAdjust="spacingAndGlyphs">K</text>
<text x="307" y="834" font-size="17.5" fill="#1414E6" stroke="#1414E6" stroke-width="0.35" textLength="9.3" lengthAdjust="spacingAndGlyphs">R</text>
<text x="396.7" y="806.9" font-size="17.5" fill="#1414E6" stroke="#1414E6" stroke-width="0.35" textLength="10.8" lengthAdjust="spacingAndGlyphs">G</text>
<text x="435.5" y="806.7" font-size="17.5" fill="#1414E6" stroke="#1414E6" stroke-width="0.35" textLength="21.8" lengthAdjust="spacingAndGlyphs">K.1</text>
<text x="452.6" y="790.9" font-size="17.5" fill="#1414E6" stroke="#1414E6" stroke-width="0.35" textLength="6.2" lengthAdjust="spacingAndGlyphs">L</text>
<text x="431.7" y="768.8" font-size="17.5" fill="#1414E6" stroke="#1414E6" stroke-width="0.35" textLength="7.4" lengthAdjust="spacingAndGlyphs">F</text>
<text x="522.5" y="669.5" font-size="17" fill="#E41A1C" font-style="italic" stroke="#E41A1C" stroke-width="0.2" textLength="110.5" lengthAdjust="spacingAndGlyphs">Carex pulicaris</text>
<text x="522.5" y="692.5" font-size="17" fill="#E41A1C" stroke="#E41A1C" stroke-width="0.2" textLength="88.7" lengthAdjust="spacingAndGlyphs">abundance</text>
<text x="389.8" y="1017.4" font-size="19.5" fill="#231F20" stroke="#231F20" stroke-width="0.15" textLength="37.8" lengthAdjust="spacingAndGlyphs">CCA</text>
<text x="389.8" y="1043.8" font-size="19.5" fill="#231F20" stroke="#231F20" stroke-width="0.15" textLength="232.6" lengthAdjust="spacingAndGlyphs">Plant communities ~ EIVs</text>
<text x="389.8" y="1067.7" font-size="16.5" fill="#231F20" stroke="#231F20" stroke-width="0.15" textLength="149" lengthAdjust="spacingAndGlyphs">+ fitting <tspan font-style="italic">C. pulicaris</tspan></text>
<text x="389.8" y="1089.9" font-size="16.5" fill="#231F20" stroke="#231F20" stroke-width="0.15" textLength="158.5" lengthAdjust="spacingAndGlyphs">abundance (p&lt;0.05)</text>
<line x1="106.29999999999995" y1="1100.5" x2="106.29999999999995" y2="1109" stroke="#262626" stroke-width="1.3" />
<text x="106.29999999999995" y="1129.6" font-size="16" fill="#231F20" stroke="#231F20" stroke-width="0.3" text-anchor="middle" textLength="21.5" lengthAdjust="spacingAndGlyphs">−3</text>
<line x1="184.49999999999997" y1="1100.5" x2="184.49999999999997" y2="1109" stroke="#262626" stroke-width="1.3" />
<text x="184.49999999999997" y="1129.6" font-size="16" fill="#231F20" stroke="#231F20" stroke-width="0.3" text-anchor="middle" textLength="21.5" lengthAdjust="spacingAndGlyphs">−2</text>
<line x1="262.7" y1="1100.5" x2="262.7" y2="1109" stroke="#262626" stroke-width="1.3" />
<text x="262.7" y="1129.6" font-size="16" fill="#231F20" stroke="#231F20" stroke-width="0.3" text-anchor="middle" textLength="21.5" lengthAdjust="spacingAndGlyphs">−1</text>
<line x1="340.9" y1="1100.5" x2="340.9" y2="1109" stroke="#262626" stroke-width="1.3" />
<text x="340.9" y="1129.6" font-size="16" fill="#231F20" stroke="#231F20" stroke-width="0.3" text-anchor="middle">0</text>
<line x1="419.09999999999997" y1="1100.5" x2="419.09999999999997" y2="1109" stroke="#262626" stroke-width="1.3" />
<text x="419.09999999999997" y="1129.6" font-size="16" fill="#231F20" stroke="#231F20" stroke-width="0.3" text-anchor="middle">1</text>
<line x1="497.29999999999995" y1="1100.5" x2="497.29999999999995" y2="1109" stroke="#262626" stroke-width="1.3" />
<text x="497.29999999999995" y="1129.6" font-size="16" fill="#231F20" stroke="#231F20" stroke-width="0.3" text-anchor="middle">2</text>
<line x1="575.5" y1="1100.5" x2="575.5" y2="1109" stroke="#262626" stroke-width="1.3" />
<text x="575.5" y="1129.6" font-size="16" fill="#231F20" stroke="#231F20" stroke-width="0.3" text-anchor="middle">3</text>
<line x1="54" y1="992.9" x2="63" y2="992.9" stroke="#262626" stroke-width="1.3" />
<text x="0" y="0" font-size="16" fill="#231F20" stroke="#231F20" stroke-width="0.3" text-anchor="middle" textLength="21.5" lengthAdjust="spacingAndGlyphs" transform="translate(47,992.9) rotate(-90)">−3</text>
<line x1="54" y1="914.6999999999999" x2="63" y2="914.6999999999999" stroke="#262626" stroke-width="1.3" />
<text x="0" y="0" font-size="16" fill="#231F20" stroke="#231F20" stroke-width="0.3" text-anchor="middle" textLength="21.5" lengthAdjust="spacingAndGlyphs" transform="translate(47,914.6999999999999) rotate(-90)">−2</text>
<line x1="54" y1="836.5" x2="63" y2="836.5" stroke="#262626" stroke-width="1.3" />
<text x="0" y="0" font-size="16" fill="#231F20" stroke="#231F20" stroke-width="0.3" text-anchor="middle" textLength="21.5" lengthAdjust="spacingAndGlyphs" transform="translate(47,836.5) rotate(-90)">−1</text>
<line x1="54" y1="758.3" x2="63" y2="758.3" stroke="#262626" stroke-width="1.3" />
<text x="0" y="0" font-size="16" fill="#231F20" stroke="#231F20" stroke-width="0.3" text-anchor="middle" transform="translate(47,758.3) rotate(-90)">0</text>
<line x1="54" y1="680.0999999999999" x2="63" y2="680.0999999999999" stroke="#262626" stroke-width="1.3" />
<text x="0" y="0" font-size="16" fill="#231F20" stroke="#231F20" stroke-width="0.3" text-anchor="middle" transform="translate(47,680.0999999999999) rotate(-90)">1</text>
<text x="332" y="1158.3" font-size="20.5" fill="#231F20" stroke="#231F20" stroke-width="0.4" textLength="47.1" lengthAdjust="spacingAndGlyphs">CCA1</text>
<text x="-24.45" y="0" font-size="20.5" fill="#231F20" stroke="#231F20" stroke-width="0.4" textLength="48.9" lengthAdjust="spacingAndGlyphs" transform="translate(17.3,841.5) rotate(-90)">CCA2</text>
<text x="3.5" y="612.2" font-size="34" fill="#231F20" stroke="#231F20" stroke-width="0.4" textLength="21" lengthAdjust="spacingAndGlyphs">B</text>
</svg></body></html>
